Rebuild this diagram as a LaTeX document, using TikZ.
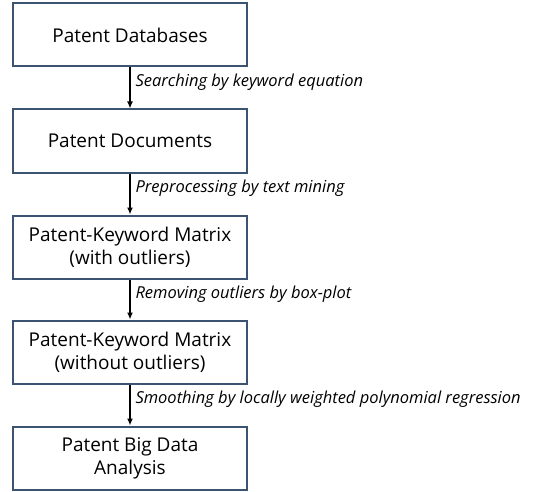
\documentclass[tikz,border=0pt]{standalone}
\usepackage{fontspec}
\setmainfont{Open Sans}
\usepackage{xcolor}
\usetikzlibrary{arrows.meta}
\definecolor{boxblue}{RGB}{60,84,114}

\tikzset{
  stagebox/.style={draw=boxblue, line width=2pt, fill=white, minimum width=234pt,
    minimum height=63pt, align=center, font=\fontsize{19}{23}\selectfont},
  flow/.style={-{Latex[length=7pt,width=6pt]}, line width=2pt, black},
  steplabel/.style={right, pos=0.37, inner sep=4.5pt, font=\fontsize{16.5}{18}\selectfont\itshape}
}

\begin{document}
\begin{tikzpicture}[x=1pt, y=-1pt]
\useasboundingbox (0,0) rectangle (535,492);

\node[stagebox] (db) at (130,35) {Patent Databases};
\node[stagebox] (docs) at (130,141) {Patent Documents};
\node[stagebox] (rawmat) at (130,247) {Patent-Keyword Matrix\\(with outliers)};
\node[stagebox] (cleanmat) at (130,352) {Patent-Keyword Matrix\\(without outliers)};
\node[stagebox] (bigdata) at (130,458) {Patent Big Data\\Analysis};

\draw[flow] (db) -- (docs) node[steplabel] {Searching by keyword equation};
\draw[flow] (docs) -- (rawmat) node[steplabel] {Preprocessing by text mining};
\draw[flow] (rawmat) -- (cleanmat) node[steplabel] {Removing outliers by box-plot};
\draw[flow] (cleanmat) -- (bigdata) node[steplabel] {Smoothing by locally weighted polynomial regression};

\end{tikzpicture}
\end{document}
